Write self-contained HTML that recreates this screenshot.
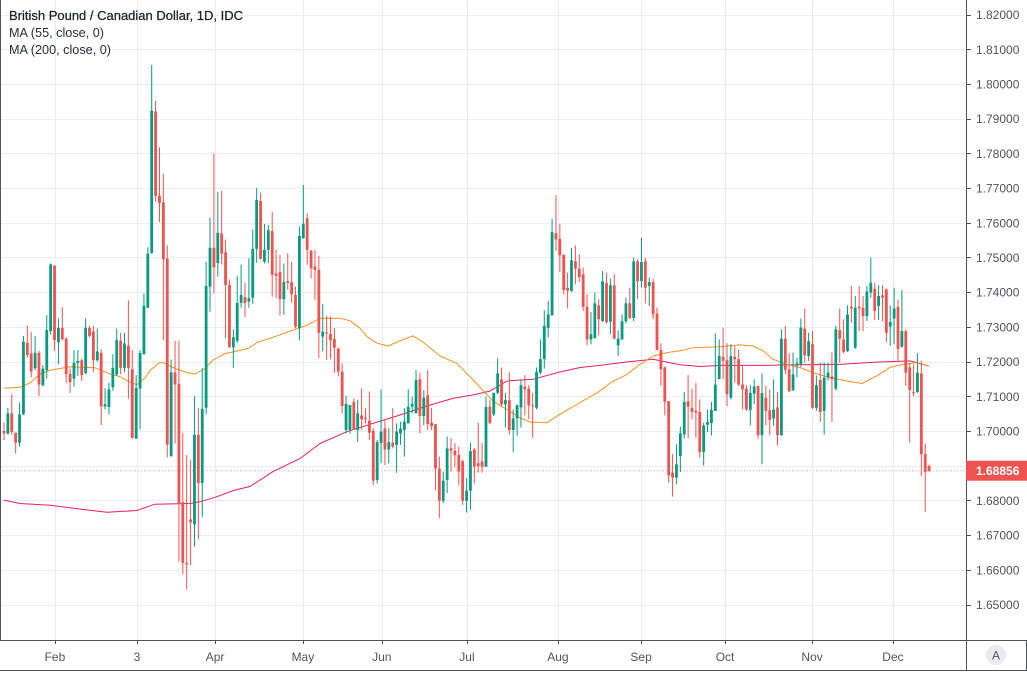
<!DOCTYPE html>
<html><head><meta charset="utf-8">
<style>
html,body{margin:0;padding:0;background:#fff;}
body{width:1027px;height:671px;overflow:hidden;font-family:"Liberation Sans",sans-serif;}
svg text{font-family:"Liberation Sans",sans-serif;}
</style></head>
<body>
<svg id="chart" width="1027" height="671" viewBox="0 0 1027 671" xmlns="http://www.w3.org/2000/svg">
  <rect x="0" y="0" width="1027" height="671" fill="#ffffff"/>
  <g id="grid"></g>
  <g id="mas"></g>
  <g id="candles"></g>
  <line x1="0.5" y1="0" x2="0.5" y2="640" stroke="#50535e" stroke-width="1"/>
  <line x1="966.5" y1="0" x2="966.5" y2="671" stroke="#50535e" stroke-width="1"/>
  <line x1="0" y1="640.5" x2="1027" y2="640.5" stroke="#50535e" stroke-width="1"/>
  <line x1="1026.5" y1="640" x2="1026.5" y2="671" stroke="#50535e" stroke-width="1"/>
  <line x1="0" y1="670.5" x2="1027" y2="670.5" stroke="#50535e" stroke-width="1"/>
  <g id="yaxis"></g>
  <g id="xaxis"></g>
  <g font-size="12.5">
    <text x="9" y="20" fill="#1e222d" stroke="#1e222d" stroke-width="0.25" textLength="234" lengthAdjust="spacingAndGlyphs">British Pound / Canadian Dollar, 1D, IDC</text>
    <text x="9" y="37" fill="#2a2e39" textLength="95" lengthAdjust="spacingAndGlyphs">MA (55, close, 0)</text>
    <text x="9" y="54" fill="#2a2e39" textLength="102" lengthAdjust="spacingAndGlyphs">MA (200, close, 0)</text>
  </g>
  <g>
    <circle cx="996" cy="655" r="10" fill="#e9ebef"/>
    <text x="996" y="659.5" text-anchor="middle" font-size="12" fill="#50535e">A</text>
  </g>
</svg>
<script>
const opens=[1.7000,1.6993,1.7051,1.6995,1.6966,1.7048,1.7254,1.7223,1.7181,1.7225,1.7132,1.7175,1.7288,1.7476,1.7256,1.7297,1.7266,1.7165,1.7151,1.7196,1.7204,1.7167,1.7297,1.7287,1.7204,1.7225,1.7071,1.7069,1.7126,1.7163,1.7260,1.7182,1.7246,1.7178,1.6978,1.7122,1.7221,1.7355,1.7513,1.7921,1.7678,1.7659,1.7497,1.6927,1.7169,1.7136,1.6795,1.6620,1.6745,1.6731,1.6989,1.6850,1.7067,1.7416,1.7528,1.7484,1.7569,1.7515,1.7421,1.7241,1.7260,1.7369,1.7386,1.7373,1.7384,1.7525,1.7663,1.7488,1.7522,1.7576,1.7454,1.7458,1.7380,1.7432,1.7429,1.7392,1.7296,1.7555,1.7613,1.7520,1.7474,1.7464,1.7272,1.7284,1.7280,1.7265,1.7238,1.7171,1.7003,1.7003,1.7084,1.7003,1.7045,1.7037,1.7030,1.7000,1.6859,1.6966,1.7007,1.6947,1.6966,1.6960,1.6993,1.7003,1.7022,1.7070,1.7051,1.7149,1.7043,1.7103,1.7024,1.7020,1.6892,1.6799,1.6859,1.6950,1.6943,1.6931,1.6913,1.6799,1.6828,1.6947,1.6907,1.6912,1.6897,1.7070,1.7048,1.7110,1.7149,1.7077,1.7089,1.7003,1.7036,1.7068,1.7128,1.7122,1.7074,1.7067,1.7168,1.7207,1.7297,1.7333,1.7570,1.7554,1.7508,1.7412,1.7404,1.7489,1.7468,1.7452,1.7358,1.7264,1.7268,1.7362,1.7317,1.7427,1.7315,1.7420,1.7247,1.7264,1.7316,1.7368,1.7326,1.7489,1.7432,1.7489,1.7418,1.7429,1.7339,1.7233,1.7183,1.7086,1.6880,1.6866,1.6928,1.6990,1.7086,1.7066,1.7058,1.7055,1.6939,1.7018,1.7023,1.7058,1.7150,1.7214,1.7204,1.7096,1.7214,1.7207,1.7134,1.7122,1.7060,1.7108,1.7130,1.6988,1.7096,1.7060,1.7036,1.7068,1.6988,1.7266,1.7178,1.7117,1.7189,1.7192,1.7295,1.7216,1.7250,1.7067,1.7147,1.7058,1.7154,1.7157,1.7122,1.7291,1.7264,1.7230,1.7358,1.7240,1.7358,1.7355,1.7331,1.7399,1.7410,1.7360,1.7391,1.7408,1.7301,1.7324,1.7358,1.7243,1.7288,1.7183,1.7112,1.7112,1.7166,1.6933,1.6899];
const closes=[1.6993,1.7051,1.6997,1.6966,1.7048,1.7257,1.7219,1.7171,1.7225,1.7134,1.7180,1.7291,1.7480,1.7262,1.7297,1.7264,1.7164,1.7141,1.7196,1.7202,1.7161,1.7297,1.7274,1.7204,1.7229,1.7071,1.7077,1.7120,1.7182,1.7262,1.7182,1.7252,1.7182,1.6980,1.7124,1.7225,1.7361,1.7511,1.7923,1.7678,1.7657,1.7495,1.6961,1.7169,1.7134,1.6793,1.6620,1.6616,1.6737,1.6989,1.6850,1.7064,1.7418,1.7528,1.7472,1.7571,1.7511,1.7421,1.7241,1.7270,1.7369,1.7392,1.7369,1.7383,1.7525,1.7666,1.7496,1.7522,1.7579,1.7450,1.7447,1.7380,1.7430,1.7427,1.7394,1.7301,1.7562,1.7597,1.7522,1.7469,1.7464,1.7283,1.7286,1.7281,1.7262,1.7240,1.7171,1.7072,1.7078,1.7075,1.7003,1.7051,1.7034,1.7034,1.6995,1.6857,1.6968,1.6998,1.6947,1.6968,1.6955,1.6998,1.7007,1.7027,1.7070,1.7078,1.7147,1.7043,1.7096,1.7020,1.7014,1.6892,1.6799,1.6857,1.6950,1.6943,1.6930,1.6883,1.6799,1.6828,1.6942,1.6897,1.6899,1.6897,1.7070,1.7022,1.7110,1.7166,1.7077,1.7089,1.7003,1.7036,1.7074,1.7132,1.7120,1.7074,1.7072,1.7170,1.7207,1.7303,1.7336,1.7573,1.7552,1.7506,1.7406,1.7404,1.7492,1.7468,1.7443,1.7358,1.7264,1.7279,1.7368,1.7322,1.7431,1.7314,1.7420,1.7266,1.7266,1.7316,1.7368,1.7326,1.7489,1.7432,1.7487,1.7413,1.7429,1.7336,1.7233,1.7178,1.7084,1.6872,1.6866,1.6904,1.6993,1.7084,1.7070,1.7055,1.7053,1.6939,1.7016,1.7026,1.7061,1.7134,1.7216,1.7202,1.7106,1.7216,1.7207,1.7134,1.7120,1.7062,1.7110,1.7128,1.6988,1.7109,1.7058,1.7032,1.7062,1.6988,1.7266,1.7176,1.7115,1.7163,1.7195,1.7298,1.7218,1.7259,1.7067,1.7132,1.7055,1.7154,1.7168,1.7149,1.7293,1.7266,1.7228,1.7336,1.7353,1.7355,1.7353,1.7331,1.7402,1.7427,1.7346,1.7389,1.7384,1.7283,1.7314,1.7353,1.7237,1.7288,1.7168,1.7118,1.7110,1.7168,1.6933,1.6882,1.6885];
const highs=[1.7025,1.7067,1.7106,1.6989,1.7082,1.7274,1.7303,1.7285,1.7274,1.7231,1.7190,1.7334,1.7483,1.7478,1.7324,1.7357,1.7270,1.7180,1.7233,1.7233,1.7209,1.7324,1.7303,1.7303,1.7295,1.7236,1.7123,1.7139,1.7221,1.7295,1.7283,1.7283,1.7376,1.7233,1.7161,1.7233,1.7396,1.7530,1.8055,1.7952,1.7818,1.7741,1.7535,1.7206,1.7260,1.7260,1.6994,1.6931,1.6917,1.7100,1.7067,1.7182,1.7488,1.7616,1.7799,1.7689,1.7692,1.7552,1.7437,1.7293,1.7447,1.7480,1.7427,1.7498,1.7581,1.7700,1.7687,1.7597,1.7594,1.7632,1.7522,1.7507,1.7483,1.7512,1.7488,1.7416,1.7589,1.7709,1.7627,1.7522,1.7522,1.7505,1.7366,1.7332,1.7330,1.7296,1.7238,1.7195,1.7101,1.7075,1.7094,1.7090,1.7123,1.7066,1.7114,1.7008,1.6974,1.7120,1.7032,1.7008,1.7066,1.7022,1.7027,1.7066,1.7120,1.7099,1.7176,1.7168,1.7118,1.7176,1.7066,1.7017,1.6926,1.6883,1.6984,1.6979,1.6965,1.6955,1.6917,1.6864,1.6967,1.6950,1.7024,1.6965,1.7099,1.7090,1.7110,1.7209,1.7183,1.7110,1.7170,1.7062,1.7077,1.7149,1.7161,1.7132,1.7110,1.7183,1.7264,1.7348,1.7375,1.7612,1.7679,1.7596,1.7508,1.7456,1.7528,1.7535,1.7509,1.7471,1.7394,1.7343,1.7399,1.7380,1.7461,1.7456,1.7439,1.7452,1.7290,1.7336,1.7384,1.7413,1.7500,1.7495,1.7557,1.7499,1.7442,1.7439,1.7356,1.7253,1.7186,1.7086,1.6933,1.6962,1.7013,1.7112,1.7161,1.7122,1.7138,1.7091,1.7024,1.7062,1.7084,1.7281,1.7264,1.7298,1.7253,1.7250,1.7245,1.7235,1.7187,1.7132,1.7132,1.7149,1.7130,1.7166,1.7130,1.7120,1.7149,1.7112,1.7293,1.7303,1.7224,1.7226,1.7211,1.7324,1.7353,1.7283,1.7288,1.7160,1.7197,1.7197,1.7197,1.7226,1.7303,1.7353,1.7322,1.7362,1.7418,1.7389,1.7418,1.7389,1.7418,1.7500,1.7427,1.7420,1.7420,1.7410,1.7362,1.7413,1.7379,1.7406,1.7293,1.7197,1.7192,1.7224,1.7202,1.6964,1.6904];
const lows=[1.6974,1.6989,1.6989,1.6935,1.6955,1.7046,1.7211,1.7154,1.7175,1.7100,1.7128,1.7151,1.7278,1.7231,1.7192,1.7262,1.7139,1.7110,1.7128,1.7159,1.7144,1.7164,1.7270,1.7169,1.7200,1.7017,1.7062,1.7048,1.7116,1.7159,1.7164,1.7169,1.7093,1.6978,1.7048,1.7005,1.7221,1.7355,1.7511,1.7660,1.7602,1.7262,1.6924,1.6927,1.6964,1.6624,1.6587,1.6544,1.6614,1.6667,1.6688,1.6753,1.7048,1.7344,1.7396,1.7445,1.7480,1.7267,1.7241,1.7182,1.7254,1.7355,1.7328,1.7355,1.7366,1.7485,1.7493,1.7483,1.7483,1.7387,1.7383,1.7333,1.7335,1.7407,1.7370,1.7296,1.7261,1.7555,1.7479,1.7440,1.7378,1.7210,1.7229,1.7205,1.7207,1.7168,1.7157,1.7051,1.6993,1.6993,1.7003,1.6969,1.7003,1.7022,1.6974,1.6844,1.6849,1.6907,1.6902,1.6907,1.6950,1.6880,1.6960,1.6926,1.7022,1.7051,1.7051,1.6993,1.7017,1.7003,1.7003,1.6830,1.6749,1.6792,1.6821,1.6883,1.6897,1.6844,1.6787,1.6765,1.6773,1.6849,1.6880,1.6880,1.6897,1.7022,1.7043,1.7106,1.7072,1.7010,1.6990,1.6939,1.6986,1.7010,1.7045,1.7034,1.6981,1.7062,1.7163,1.7180,1.7269,1.7333,1.7519,1.7458,1.7394,1.7353,1.7401,1.7423,1.7430,1.7346,1.7248,1.7250,1.7266,1.7276,1.7314,1.7309,1.7279,1.7264,1.7216,1.7262,1.7310,1.7322,1.7317,1.7380,1.7413,1.7368,1.7360,1.7322,1.7233,1.7130,1.7045,1.6851,1.6811,1.6846,1.6882,1.6978,1.6978,1.7034,1.6981,1.6923,1.6901,1.6997,1.6987,1.7058,1.7157,1.7149,1.7072,1.7091,1.7139,1.7130,1.7062,1.7058,1.7016,1.7077,1.6978,1.6904,1.7016,1.6988,1.7015,1.6959,1.6986,1.7163,1.7112,1.7116,1.7154,1.7185,1.7197,1.7202,1.7064,1.7058,1.7026,1.6990,1.7146,1.7026,1.7116,1.7197,1.7224,1.7228,1.7312,1.7237,1.7288,1.7288,1.7317,1.7384,1.7320,1.7320,1.7317,1.7256,1.7245,1.7250,1.7202,1.7240,1.7130,1.6966,1.7100,1.7110,1.6870,1.6767,1.6882];

/* indices below are 1-based candle numbers */
const ma55Idx=[1,5.1,7.7,10.3,12.8,18.0,24.4,28.3,30.8,33.4,35.2,37.3,38.6,41.1,42.4,45.0,47.6,50.1,52.7,54.8,57.9,60.4,64.0,66.1,70.2,75.4,79.0,82.3,87.4,90.0,92.6,94.4,97.0,99.8,102.9,106.2,108.6,113.2,117.5,121.7,125.3,126.8,130.4,133.7,136.3,140.7,144.0,149.2,153.6,157.7,161.3,164.6,168.0,171.6,174.9,178.3,185.2,190.3,193.7,196.3,198.8,202.4,205.8,209.1,213.5,217.9,221.7,225.6,228.9,232.3,235.9,239];
const ma55Val=[1.7123,1.7126,1.7139,1.7164,1.7175,1.7185,1.7182,1.7164,1.7157,1.7141,1.7133,1.7153,1.7175,1.7198,1.7195,1.7180,1.7170,1.7164,1.7180,1.7205,1.7223,1.7229,1.7239,1.7255,1.7270,1.7291,1.7305,1.7325,1.7325,1.7318,1.7296,1.7272,1.7253,1.7245,1.7260,1.7274,1.7258,1.7216,1.7195,1.7147,1.7104,1.7086,1.7062,1.7038,1.7026,1.7024,1.7048,1.7082,1.7110,1.7144,1.7163,1.7192,1.7216,1.7226,1.7231,1.7240,1.7243,1.7248,1.7245,1.7231,1.7207,1.7192,1.7183,1.7168,1.7154,1.7144,1.7137,1.7159,1.7183,1.7192,1.7197,1.7187];
const ma200Idx=[1,5.1,12.8,20.6,27.5,35.2,39.8,48.9,51.4,55.3,60.4,64.3,70.2,77.2,82.3,89.2,95.9,102.9,109.8,116.5,121.7,126.0,130.4,137.1,144.0,149.2,154.3,161.3,168.0,174.9,180.1,185.2,195.5,205.8,216.1,226.4,234.1,239];
const ma200Val=[1.6801,1.6791,1.6786,1.6775,1.6766,1.6771,1.6789,1.6791,1.6796,1.6809,1.6830,1.6840,1.6883,1.6921,1.6964,1.6998,1.7022,1.7046,1.7072,1.7094,1.7104,1.7115,1.7144,1.7149,1.7170,1.7183,1.7189,1.7199,1.7207,1.7191,1.7186,1.7189,1.7189,1.7191,1.7192,1.7199,1.7202,1.7187];

const priceTicks=[1.82,1.81,1.80,1.79,1.78,1.77,1.76,1.75,1.74,1.73,1.72,1.71,1.70,1.69,1.68,1.67,1.66,1.65];
const timeLabels=["Feb","3","Apr","May","Jun","Jul","Aug","Sep","Oct","Nov","Dec"];
const timeIdx=[14.1,35.2,55.3,77.9,98.2,120.1,143.5,164.9,186.5,208.9,229.7];
const lastPrice=1.68856;

const NS="http://www.w3.org/2000/svg";
function yScale(p){return 431-(p-1.70)*3470;}
function xScale(i){return 4+i*3.887;}        /* 0-based candle position */
function xNum(n){return xScale(n-1);}          /* 1-based candle number */
function mk(tag,attrs,parent){const e=document.createElementNS(NS,tag);for(const k in attrs)e.setAttribute(k,attrs[k]);parent.appendChild(e);return e;}

const grid=document.getElementById('grid');
priceTicks.forEach(function(p){
  const y=Math.round(yScale(p))+0.5;
  const l=mk('line',{x1:0,x2:966,y1:y,y2:y,stroke:'#e6edf3','stroke-width':1},grid);
  
  
});
timeIdx.forEach(function(t){
  const x=Math.round(xNum(t))+0.5;
  const l=mk('line',{x1:x,x2:x,y1:0,y2:640,stroke:'#e6edf3','stroke-width':1},grid);
  
  
});

const yaxis=document.getElementById('yaxis');
priceTicks.forEach(function(p){
  const y=yScale(p);
  const tk=mk('line',{x1:966,x2:971,y1:Math.round(y)+0.5,y2:Math.round(y)+0.5,stroke:'#50535e'},yaxis);
  
  
  const t=mk('text',{x:976,y:y+4.5,'font-size':12,fill:'#50535e'},yaxis);
  t.textContent=p.toFixed(5);
  
  
});
const ly=yScale(lastPrice);
const dl=mk('line',{x1:0,x2:966,y1:ly,y2:ly,stroke:'#ef5350','stroke-width':1,'stroke-dasharray':'1,2','stroke-opacity':0.5},yaxis);


const lb=mk('rect',{x:966,y:ly-10,width:61,height:20,fill:'#ef5350'},yaxis);


const lt=mk('text',{x:976,y:ly+4.5,'font-size':12,fill:'#ffffff','font-weight':'bold'},yaxis);
lt.textContent=lastPrice.toFixed(5);



const xaxis=document.getElementById('xaxis');
timeLabels.forEach(function(lbl,k){
  const x=xNum(timeIdx[k]);
  const tk=mk('line',{x1:Math.round(x)+0.5,x2:Math.round(x)+0.5,y1:640,y2:644,stroke:'#50535e'},xaxis);
  
  
  const t=mk('text',{x:x,y:661,'font-size':12,fill:'#50535e','text-anchor':'middle'},xaxis);
  t.textContent=lbl;
  
  
});

const mas=document.getElementById('mas');
function line(idx,vals,color,name){
  let d='';
  idx.forEach(function(i,k){d+=(k?'L':'M')+xNum(i).toFixed(1)+','+yScale(vals[k]).toFixed(1);});
  const p=mk('path',{d:d,fill:'none',stroke:color,'stroke-width':1,'stroke-linejoin':'round'},mas);
  
  
}
line(ma200Idx,ma200Val,'#e91e63','ma200-line');
line(ma55Idx,ma55Val,'#ff8f1f','ma55-line');

const cg=document.getElementById('candles');
opens.forEach(function(o,k){
  const c=closes[k];
  const up=c>=o;
  const col=up?'#089981':'#ef5350';
  const x=xScale(k);
  const hi=Math.max(highs[k],o,c), lo=Math.min(lows[k],o,c);
  const g=mk('g',{},cg);
  
  
  mk('line',{x1:x,x2:x,y1:yScale(hi),y2:yScale(lo),stroke:col,'stroke-width':1},g);
  const yt=yScale(Math.max(o,c)), yb=yScale(Math.min(o,c));
  mk('rect',{x:x-1.4,y:yt,width:2.8,height:Math.max(1,yb-yt),fill:col},g);
});
</script>
</body></html>
